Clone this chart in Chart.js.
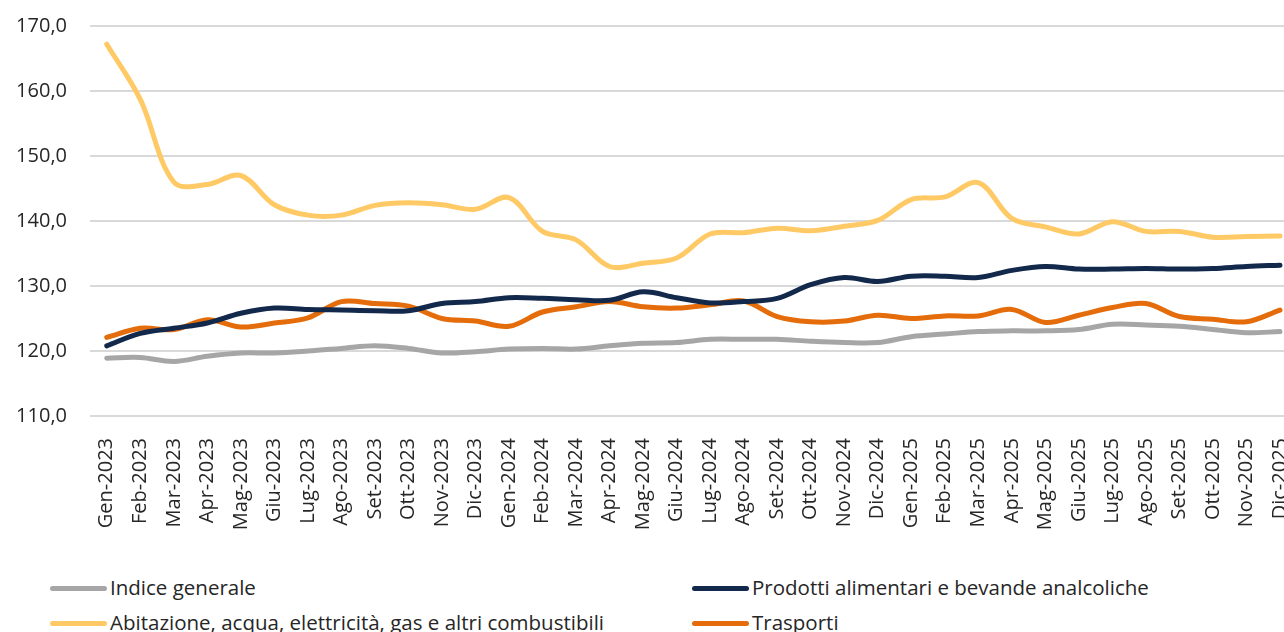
<!DOCTYPE html>
<html>
<head>
<meta charset="utf-8">
<script src="https://cdn.jsdelivr.net/npm/chart.js@4"></script>
<style>
  html, body { margin: 0; padding: 0; background: #fff; overflow: hidden; width: 1284px; height: 632px; }
  #wrap { position: absolute; left: 0; top: 0; width: 1318px; height: 540px; }
  .leg { position: absolute; font-family: "Open Sans", sans-serif; font-size: 20.5px; color: #262626; white-space: nowrap; line-height: 1; }
</style>
</head>
<body>
<div id="wrap"><canvas id="chart" width="1318" height="540"></canvas></div>
<div id="legend"></div>
<script>
const months = ['Gen-2023','Feb-2023','Mar-2023','Apr-2023','Mag-2023','Giu-2023','Lug-2023','Ago-2023','Set-2023','Ott-2023','Nov-2023','Dic-2023',
  'Gen-2024','Feb-2024','Mar-2024','Apr-2024','Mag-2024','Giu-2024','Lug-2024','Ago-2024','Set-2024','Ott-2024','Nov-2024','Dic-2024',
  'Gen-2025','Feb-2025','Mar-2025','Apr-2025','Mag-2025','Giu-2025','Lug-2025','Ago-2025','Set-2025','Ott-2025','Nov-2025','Dic-2025'];

const indiceGenerale = [118.9,119.0,118.4,119.2,119.7,119.7,120.0,120.4,120.8,120.4,119.7,119.9,
  120.3,120.4,120.3,120.8,121.2,121.3,121.8,121.8,121.8,121.5,121.3,121.3,
  122.2,122.6,123.0,123.1,123.1,123.3,124.1,124.0,123.8,123.3,122.8,123.0];
const alimentari = [120.8,122.7,123.5,124.3,125.8,126.6,126.4,126.3,126.2,126.2,127.3,127.6,
  128.2,128.1,127.9,127.8,129.1,128.2,127.4,127.6,128.1,130.2,131.3,130.7,
  131.5,131.5,131.3,132.4,133.0,132.6,132.6,132.7,132.6,132.7,133.0,133.2];
const abitazione = [167.2,158.7,146.0,145.6,147.0,142.5,140.9,140.9,142.4,142.8,142.5,141.8,
  143.6,138.4,137.1,133.0,133.5,134.3,138.0,138.2,138.9,138.5,139.2,140.1,
  143.3,143.7,145.9,140.4,139.1,138.0,139.9,138.4,138.4,137.5,137.6,137.7];
const trasporti = [122.1,123.5,123.3,124.8,123.7,124.3,125.1,127.6,127.3,126.9,125.0,124.6,
  123.8,126.0,126.8,127.6,126.8,126.6,127.1,127.7,125.3,124.5,124.6,125.5,
  125.0,125.4,125.4,126.4,124.4,125.5,126.7,127.3,125.3,124.9,124.5,126.3];

const yTicks = [110, 120, 130, 140, 150, 160, 170];

const series = [
  { label: 'Indice generale', data: indiceGenerale, color: '#a6a6a6' },
  { label: 'Prodotti alimentari e bevande analcoliche', data: alimentari, color: '#13294b' },
  { label: 'Abitazione, acqua, elettricità, gas e altri combustibili', data: abitazione, color: '#ffca66' },
  { label: 'Trasporti', data: trasporti, color: '#e46c0a' }
];

const ctx = document.getElementById('chart').getContext('2d');
new Chart(ctx, {
  type: 'line',
  data: {
    labels: months,
    datasets: series.map(s => ({
      label: s.label,
      data: s.data,
      borderColor: s.color,
      backgroundColor: s.color,
      borderWidth: 5,
      pointRadius: 0,
      tension: 0.35,
      borderCapStyle: 'round',
      borderJoinStyle: 'round',
      fill: false
    }))
  },
  options: {
    responsive: false,
    animation: false,
    layout: { padding: { top: 26, right: 1, left: 0, bottom: 0 } },
    plugins: { legend: { display: false }, tooltip: { enabled: false } },
    scales: {
      x: {
        offset: true,
        grid: { display: false },
        border: { display: false },
        ticks: {
          autoSkip: false,
          maxRotation: 90,
          minRotation: 90,
          padding: 14,
          color: '#262626',
          font: { family: 'Open Sans', size: 20 }
        },
        afterFit: function(scale) { scale.height = 124; }
      },
      y: {
        min: 110,
        max: 170,
        afterBuildTicks: function(scale) { scale.ticks = yTicks.map(v => ({ value: v })); },
        grid: { color: '#d9d9d9', lineWidth: 2, drawTicks: false },
        border: { display: false },
        ticks: {
          padding: 23,
          color: '#262626',
          font: { family: 'Open Sans', size: 20 },
          callback: v => v.toFixed(1).replace('.', ',')
        },
        afterFit: function(scale) {
          scale.width = 90;
          scale.paddingTop = 0;
          scale.paddingBottom = 0;
        }
      }
    }
  }
});

// legend in two columns like the original
const legend = document.getElementById('legend');
const legPos = [[50, 588], [692, 588], [50, 623], [692, 623]];
series.forEach(function(s, i) {
  const item = document.createElement('div');
  item.className = 'leg';
  item.style.left = (legPos[i][0] + 60) + 'px';
  item.style.top = (legPos[i][1] - 11) + 'px';
  item.textContent = s.label;
  legend.appendChild(item);
  const ln = document.createElement('span');
  ln.className = 'leg';
  ln.style.left = legPos[i][0] + 'px';
  ln.style.top = (legPos[i][1] - 2) + 'px';
  ln.style.width = '57px';
  ln.style.height = '5px';
  ln.style.borderRadius = '3px';
  ln.style.background = s.color;
  legend.appendChild(ln);
});
</script>
</body>
</html>
